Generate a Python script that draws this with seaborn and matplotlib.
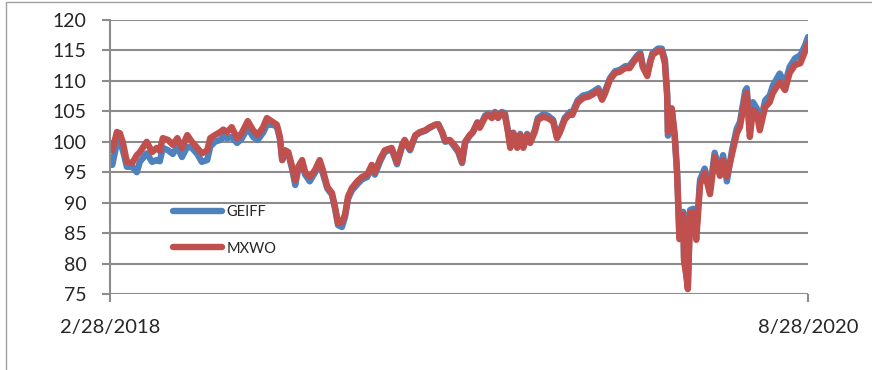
import matplotlib
matplotlib.use("Agg")
import matplotlib.pyplot as plt
import matplotlib.patches as mpatches
import numpy as np
import pandas as pd
import seaborn as sns

# Calendar-day offsets from the first session, with index levels for each fund
start_date = "2018-02-28"
end_date = "2020-08-28"
day_offsets = [
    0, 3, 9, 13, 17, 22, 29, 35, 39, 48, 55, 61, 65, 69, 76, 82, 88, 94, 101, 107,
    114, 120, 127, 131, 137, 144, 148, 153, 159, 166, 172, 180, 187, 193, 200, 205,
    212, 218, 222, 225, 229, 233, 238, 242, 246, 251, 255, 261, 268, 274, 278, 284,
    290, 294, 298, 303, 307, 311, 316, 323, 329, 336, 342, 346, 353, 359, 368, 375,
    382, 385, 392, 399, 405, 412, 418, 425, 429, 434, 438, 444, 451, 455, 460, 464,
    470, 474, 480, 483, 490, 494, 499, 503, 507, 512, 516, 520, 523, 527, 532, 536,
    540, 545, 549, 555, 559, 566, 572, 579, 584, 588, 594, 601, 604, 611, 618, 625,
    631, 638, 643, 647, 653, 660, 666, 673, 679, 683, 689, 693, 696, 702, 706, 709,
    716, 721, 725, 728, 729, 734, 738, 741, 744, 746, 749, 750, 753, 755, 758, 762,
    766, 771, 777, 784, 790, 797, 801, 806, 813, 819, 823, 830, 832, 836, 840, 845,
    849, 856, 862, 866, 875, 882, 888, 895, 902, 908, 912,
]
mxwo = [
    99.8, 98.6, 101.6, 101.4, 99.8, 96.7, 96.5, 97.8, 98.3, 100.0, 98.3, 99.0, 98.5,
    100.6, 100.3, 99.5, 100.6, 99.0, 101.1, 100.0, 99.0, 98.1, 98.6, 100.6, 101.1,
    101.6, 102.0, 101.6, 102.4, 100.6, 101.4, 103.4, 101.9, 101.1, 102.4, 103.9,
    103.3, 102.8, 100.8, 97.0, 98.6, 98.3, 95.9, 93.7, 95.9, 97.0, 95.0, 94.2, 95.4,
    97.0, 95.4, 92.6, 91.6, 89.3, 86.6, 86.8, 88.0, 91.0, 92.4, 93.5, 94.2, 94.6,
    96.2, 95.0, 97.2, 98.6, 99.0, 96.6, 99.6, 100.3, 98.8, 101.1, 101.6, 101.9,
    102.4, 102.8, 102.8, 101.6, 100.2, 100.3, 99.3, 98.6, 96.7, 100.0, 101.1, 101.6,
    103.1, 102.3, 104.0, 104.4, 103.9, 104.7, 103.9, 104.7, 104.4, 101.6, 99.0,
    101.4, 99.0, 101.1, 99.0, 101.1, 99.8, 101.6, 103.6, 104.1, 103.9, 103.3, 100.6,
    101.6, 103.6, 104.6, 104.4, 106.4, 107.2, 107.4, 107.8, 108.4, 106.9, 108.0,
    110.1, 111.3, 111.5, 112.1, 112.1, 112.9, 113.9, 114.3, 112.3, 110.8, 113.1,
    114.3, 114.9, 114.9, 112.9, 107.4, 101.6, 105.5, 101.0, 94.6, 84.0, 84.5, 88.0,
    80.5, 78.0, 75.8, 88.3, 88.4, 83.9, 93.0, 94.9, 91.4, 97.5, 94.4, 97.0, 94.3,
    98.1, 101.4, 102.4, 107.4, 108.0, 100.8, 105.2, 104.7, 101.9, 105.7, 106.5,
    108.0, 109.8, 108.5, 111.3, 112.6, 112.9, 114.8, 116.2,
]
geiff = [
    97.5, 96.2, 99.8, 100.0, 98.5, 95.9, 95.9, 95.0, 96.7, 98.1, 96.7, 97.0, 96.8,
    99.0, 98.6, 98.0, 99.2, 97.5, 99.2, 99.0, 98.0, 96.7, 97.0, 99.2, 100.0, 100.3,
    100.8, 100.6, 100.8, 99.8, 100.5, 102.3, 100.8, 100.3, 101.5, 102.8, 102.8,
    102.5, 100.5, 97.0, 98.3, 98.0, 95.5, 92.9, 95.5, 96.7, 94.6, 93.5, 95.0, 96.5,
    94.8, 92.3, 91.3, 89.0, 86.3, 86.0, 87.6, 90.6, 92.0, 93.0, 93.8, 94.2, 95.8,
    94.6, 96.8, 98.3, 98.8, 96.3, 99.4, 100.1, 98.6, 101.0, 101.5, 101.8, 102.3,
    102.8, 102.9, 101.5, 100.0, 100.2, 99.0, 98.3, 96.5, 99.8, 101.0, 101.5, 103.2,
    102.4, 104.3, 104.6, 104.1, 104.9, 104.2, 104.9, 104.7, 101.8, 99.4, 101.5,
    99.2, 101.3, 99.2, 101.3, 100.0, 101.9, 103.9, 104.5, 104.3, 103.6, 100.8,
    101.8, 103.9, 104.9, 104.8, 106.8, 107.6, 107.8, 108.2, 108.8, 107.2, 108.4,
    110.4, 111.6, 111.8, 112.4, 112.5, 113.2, 114.2, 114.6, 112.6, 111.0, 113.4,
    114.6, 115.3, 115.3, 113.5, 108.0, 101.0, 105.2, 100.5, 95.0, 84.5, 85.0, 88.5,
    81.0, 78.5, 76.2, 88.8, 89.0, 85.0, 93.8, 95.6, 92.2, 98.2, 95.0, 97.8, 93.5,
    98.8, 102.2, 103.2, 108.4, 108.8, 101.8, 106.5, 105.5, 102.8, 106.8, 107.6,
    109.2, 111.2, 109.6, 112.3, 113.7, 114.2, 115.8, 117.2,
]
series_names = ["GEIFF", "MXWO"]
series_colors = ["#4F81BD", "#C0504D"]
y_ticks = [75, 80, 85, 90, 95, 100, 105, 110, 115, 120]
x_tick_labels = ["2/28/2018", "8/28/2020"]

t0 = pd.Timestamp(start_date)
t1 = pd.Timestamp(end_date)
dates = t0 + pd.to_timedelta(day_offsets, unit="D")
df = pd.concat([
    pd.DataFrame({"date": dates, "value": geiff, "series": series_names[0]}),
    pd.DataFrame({"date": dates, "value": mxwo, "series": series_names[1]}),
])

sns.set_style("white")
plt.rcParams["font.family"] = ["Lato", "DejaVu Sans"]

W, H = 872, 370
fig = plt.figure(figsize=(W / 100, H / 100), dpi=100)
ax = fig.add_axes([110 / W, 1 - 294 / H, (808 - 110) / W, (294 - 20) / H])

grid_c = "#8C8C8C"
for v in y_ticks:
    ax.axhline(v, color=grid_c, lw=1.5, zorder=0)

sns.lineplot(data=df, x="date", y="value", hue="series", hue_order=series_names,
             palette=series_colors, linewidth=4.6, ax=ax, legend=True,
             solid_joinstyle="round", solid_capstyle="round")

ax.set_xlim(t0, t1)
ax.set_ylim(75, 120)
ax.set_yticks(y_ticks)
ax.set_yticklabels([str(v) for v in y_ticks], fontsize=14)
ax.set_xticks([t0, t1])
ax.set_xticklabels(x_tick_labels, fontsize=14.5)
ax.set_xlabel("")
ax.set_ylabel("")

for side in ["top", "right", "bottom"]:
    ax.spines[side].set_visible(False)
ax.spines["left"].set_color(grid_c)
ax.spines["left"].set_linewidth(1.5)
ax.tick_params(axis="y", length=6, width=1.5, color=grid_c, pad=11, left=True)
ax.tick_params(axis="x", length=6, width=1.5, color=grid_c, pad=12, bottom=True)

leg = ax.legend(loc="upper left", bbox_to_anchor=(0.09, 0.325), frameon=False,
                fontsize=10.5, handlelength=3.4, handletextpad=0.3,
                labelspacing=1.55, borderpad=0, borderaxespad=0)
for line in leg.get_lines():
    line.set_linewidth(4.6)

# chart-area outline
fig.patches.append(mpatches.Rectangle((6 / W, -0.1), 2.0, 1.1 - 2 / H,
                                      transform=fig.transFigure, fill=False,
                                      edgecolor="#A0A0A0", lw=1.0))

fig.savefig("out.png", dpi=100)
